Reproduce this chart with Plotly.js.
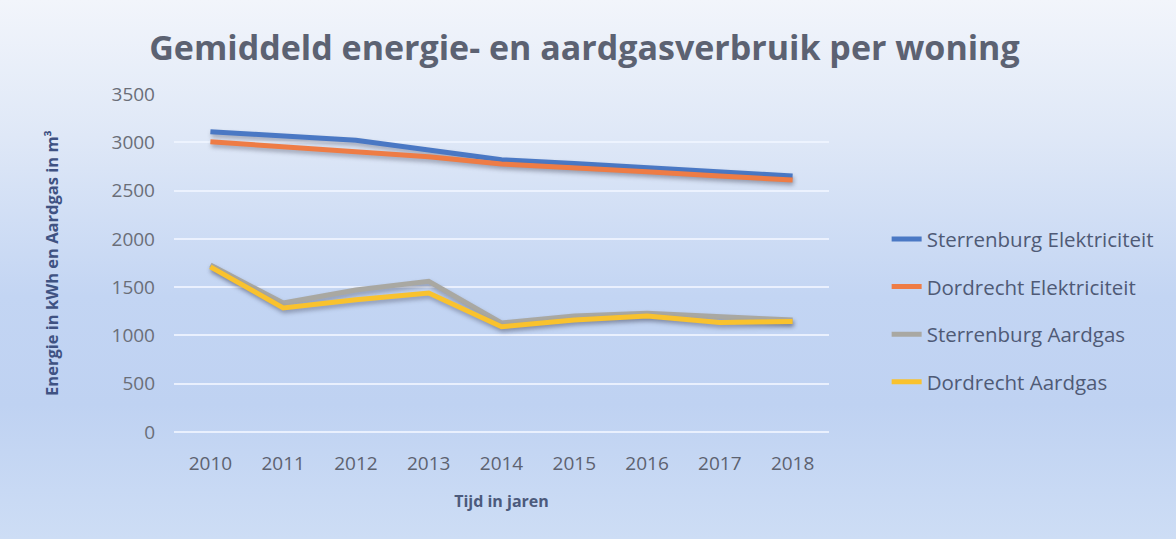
<!DOCTYPE html>
<html>
<head>
<meta charset="utf-8">
<script src="https://cdn.plot.ly/plotly-3.0.1.min.js"></script>
<style>
  html, body { margin: 0; padding: 0; }
  body {
    width: 1176px; height: 539px; overflow: hidden;
    background: linear-gradient(180deg, #f2f5fb 0%, #dfe8f7 25%, #c3d5f3 55%, #bfd2f2 75%, #cdddf5 100%);
  }
  #chart { width: 1176px; height: 539px; }
  .scatterlayer .trace path.js-line { filter: drop-shadow(1px 3px 2px rgba(40,40,60,0.35)); }
</style>
</head>
<body>
<div id="chart"></div>
<script>
// Years on the x axis
const years = ['2010', '2011', '2012', '2013', '2014', '2015', '2016', '2017', '2018'];

// Electricity use in kWh
const sterrenburgElektriciteit = [3110, 3060, 3020, 2920, 2820, 2780, 2735, 2685, 2650];
const dordrechtElektriciteit = [3005, 2955, 2910, 2850, 2775, 2740, 2695, 2650, 2610];

// Gas use in m3
const sterrenburgAardgas = [1730, 1335, 1470, 1560, 1130, 1200, 1230, 1190, 1160];
const dordrechtAardgas = [1710, 1285, 1370, 1440, 1090, 1160, 1200, 1135, 1145];

const names = ['Sterrenburg Elektriciteit', 'Dordrecht Elektriciteit', 'Sterrenburg Aardgas', 'Dordrecht Aardgas'];
const colors = ['#4a78c4', '#ee7c45', '#a9a8a2', '#f9c22e'];
const series = [sterrenburgElektriciteit, dordrechtElektriciteit, sterrenburgAardgas, dordrechtAardgas];

// Build one line trace per series (own legend group so the gap applies)
const data = series.map((values, i) => ({
    x: years,
    y: values,
    mode: 'lines',
    name: names[i],
    legendgroup: 'g' + i,
    line: { color: colors[i], width: 5 }
}));

// Layout for the plot
const layout = {
    width: 1176,
    height: 539,
    paper_bgcolor: 'rgba(0,0,0,0)',
    plot_bgcolor: 'rgba(0,0,0,0)',
    margin: { l: 174, r: 347, t: 94, b: 107 },
    font: { family: 'Open Sans, sans-serif', color: '#5d6270' },
    title: {
        text: '<b>Gemiddeld energie- en aardgasverbruik per woning</b>',
        font: { size: 34, color: '#5c6272' },
        x: 0.497,
        xanchor: 'center',
        y: 0.91,
        yanchor: 'middle'
    },
    xaxis: {
        type: 'category',
        range: [-0.5, 8.5],
        title: { text: '<b>Tijd in jaren</b>', font: { size: 16, color: '#4c5a7c' }, standoff: 20 },
        tickfont: { size: 19, color: '#5d6270' },
        showgrid: false,
        showline: false,
        ticks: '',
        ticklabelstandoff: 18
    },
    yaxis: {
        title: { text: '<b>Energie in kWh en Aardgas in m³</b>', font: { size: 16.5, color: '#3f5282' }, standoff: 48 },
        range: [0, 3500],
        dtick: 500,
        tickfont: { size: 19, color: '#6a6e78' },
        showgrid: true,
        gridcolor: 'rgba(240,245,255,0.85)',
        gridwidth: 2,
        zeroline: true,
        zerolinecolor: 'rgba(240,245,255,0.85)',
        zerolinewidth: 2,
        ticks: '',
        ticklabelstandoff: 18
    },
    legend: {
        x: 1.088,
        xanchor: 'left',
        y: 0.63,
        yanchor: 'top',
        font: { size: 20.5, color: '#4f5a76' },
        tracegroupgap: 18,
        bgcolor: 'rgba(0,0,0,0)'
    },
    showlegend: true
};

// Create the plot
Plotly.newPlot('chart', data, layout, { displayModeBar: false, staticPlot: true });
</script>
</body>
</html>
